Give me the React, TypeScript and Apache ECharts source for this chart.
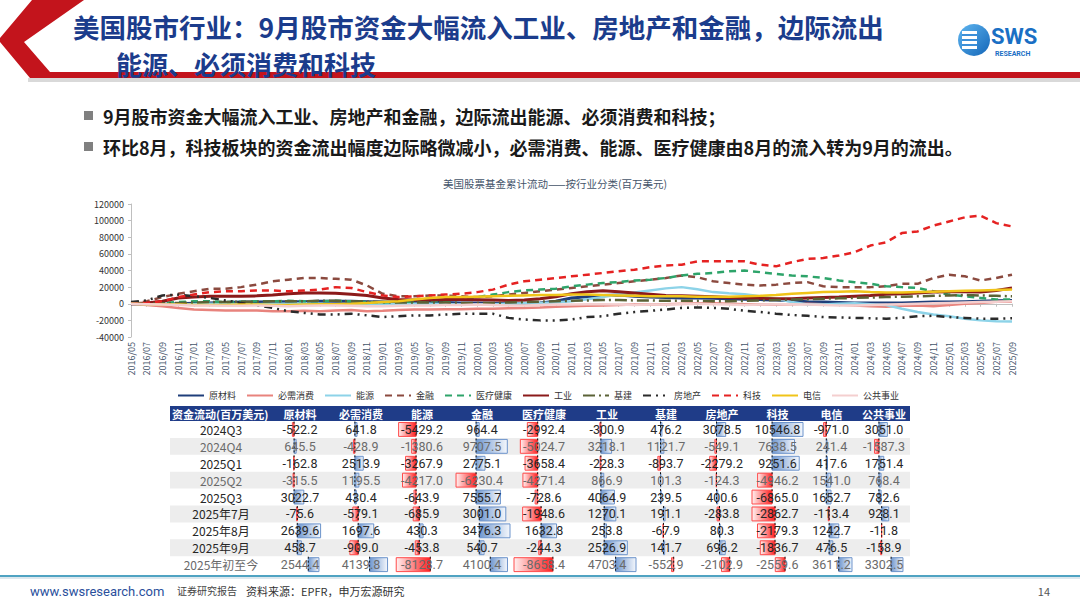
import React, { useEffect, useRef } from 'react';
import * as echarts from 'echarts';

// ---- cumulative fund flows, bi-monthly (百万美元) ----
const months = [
  '2016/05', '2016/07', '2016/09', '2016/11',
  '2017/01', '2017/03', '2017/05', '2017/07', '2017/09', '2017/11',
  '2018/01', '2018/03', '2018/05', '2018/07', '2018/09', '2018/11',
  '2019/01', '2019/03', '2019/05', '2019/07', '2019/09', '2019/11',
  '2020/01', '2020/03', '2020/05', '2020/07', '2020/09', '2020/11',
  '2021/01', '2021/03', '2021/05', '2021/07', '2021/09', '2021/11',
  '2022/01', '2022/03', '2022/05', '2022/07', '2022/09', '2022/11',
  '2023/01', '2023/03', '2023/05', '2023/07', '2023/09', '2023/11',
  '2024/01', '2024/03', '2024/05', '2024/07', '2024/09', '2024/11',
  '2025/01', '2025/03', '2025/05', '2025/07', '2025/09',
];

const sectors = ['原材料', '必需消费', '能源', '金融', '医疗健康', '工业', '基建', '房地产', '科技', '电信', '公共事业'];

const materials = [0, -500, -500, 0, 500, 1000, 1500, 2000, 2000, 2500,
  2500, 2500, 3000, 3000, 3000, 2500, 2000, 2000, 2000, 2000,
  1500, 1000, 1000, 500, 0, 500, 1000, 3000, 7000, 8500,
  10000, 10500, 9000, 8000, 7500, 7000, 7000, 6500, 6000, 5500,
  5000, 4500, 3500, 2500, 2000, 1500, 1000, 800, 800, 1000,
  1500, 2000, 2000, 2500, 3000, 3500, 4000];

const staples = [0, -1500, -3000, -5000, -7000, -7500, -8000, -8000, -8000, -9000,
  -9000, -8500, -9000, -8000, -7500, -9000, -8500, -7500, -7000, -7000,
  -6500, -6500, -6000, -6000, -5500, -5000, -4500, -3500, -3000, -2500,
  -2000, -1500, -1000, -1000, -500, 0, 500, 500, 0, -500,
  -1000, -1000, -500, 0, -500, -1000, -2000, -3000, -3500, -2500,
  -2000, -3000, -1500, 0, 1000, 2500, 2500];

const energy = [0, -500, -1000, -1000, -500, 0, 0, -500, -500, 0,
  0, 500, 0, -500, -1000, -1000, -500, -500, 0, 0,
  -500, -1000, -1000, -500, 0, 500, 1000, 1500, 3000, 5500,
  8000, 11000, 13500, 16000, 18500, 20000, 17500, 14000, 12500, 11500,
  9000, 6000, 2000, -1000, -1000, 0, 500, -500, -1500, -6000,
  -10000, -13000, -15000, -18000, -20000, -21000, -21500];

const financials = [0, 3000, 8000, 12000, 15000, 18000, 18000, 20000, 23000, 27000,
  29000, 31000, 31000, 30000, 29000, 22000, 12000, 9000, 9000, 10000,
  10000, 9000, 8000, 9000, 11000, 13000, 15000, 17000, 19000, 21000,
  23000, 25000, 27000, 29000, 31000, 34000, 32000, 27000, 25000, 23000,
  22000, 23000, 25000, 26000, 21000, 20000, 20000, 20000, 21000, 24000,
  24000, 31000, 35000, 33000, 28000, 31000, 35000];

const healthcare = [0, 500, 1000, 2000, 3000, 3000, 2000, 2500, 3000, 3000,
  3500, 3000, 3000, 3500, 3000, 2000, 1500, 2000, 2500, 3000,
  3500, 5000, 8000, 11000, 14000, 16000, 17000, 18000, 21000, 23000,
  25000, 26000, 28000, 29000, 31000, 34000, 36000, 37000, 39000, 40000,
  38000, 36000, 34000, 33000, 31000, 28000, 26000, 24000, 21000, 20000,
  19000, 15000, 11000, 9000, 7000, 5000, 5000];

const industrials = [0, 1000, 3000, 7000, 8000, 9000, 9000, 9000, 9500, 10500,
  12000, 13000, 13000, 12500, 11500, 10000, 7000, 5000, 4500, 4500,
  5000, 5000, 4800, 4500, 4000, 4500, 6000, 8500, 12000, 14500,
  15500, 14500, 13000, 11500, 10000, 9500, 9000, 8500, 7500, 7000,
  6500, 6000, 6000, 7000, 7500, 8000, 9000, 10000, 11500, 12000,
  13000, 14000, 14500, 14500, 14000, 16000, 19000];

const infrastructure = [0, 0, 500, 1000, 1500, 2000, 2000, 2500, 2500, 3000,
  3000, 3000, 3500, 3500, 3000, 2500, 2000, 1500, 1500, 1500,
  1500, 1000, 1000, 1000, 1500, 2000, 2500, 3000, 3500, 4000,
  4500, 4500, 4000, 4000, 3500, 3500, 3500, 3000, 3000, 3500,
  4000, 4500, 5000, 5500, 6000, 6500, 7000, 7500, 8000, 8500,
  9000, 9500, 10000, 10500, 10000, 9500, 9000];

const realEstate = [2000, 4000, 10000, 11000, 9000, 7000, 4000, 1000, -2000, -5000,
  -9000, -11000, -13000, -13000, -12000, -14000, -16000, -15000, -14000, -14000,
  -13000, -12000, -12000, -12000, -17000, -19000, -20000, -20000, -19000, -16000,
  -15000, -12000, -10000, -8500, -7000, -5000, -4500, -5000, -6000, -8500,
  -10000, -12000, -13500, -14500, -16000, -16500, -17000, -17500, -18000, -17000,
  -15000, -14500, -16000, -17000, -18000, -18000, -17500];

const technology = [0, 1000, 3000, 8000, 11000, 14000, 15000, 15000, 16000, 16000,
  15000, 16000, 17000, 20000, 19000, 14000, 10000, 8000, 9000, 10000,
  11000, 12000, 14000, 17000, 23000, 27000, 29000, 31000, 33000, 35000,
  37000, 39000, 41000, 44000, 46000, 47000, 51000, 51000, 51000, 51000,
  47000, 45000, 50000, 54000, 55000, 58000, 62000, 70000, 74000, 85000,
  87000, 94000, 99000, 104000, 106000, 97000, 93000];

const telecom = [0, -500, -1000, -1000, -1500, -1500, -1500, -1000, -1000, -1500,
  -1500, -1000, -500, -500, 0, 1000, 2000, 3000, 5000, 7000,
  8000, 8000, 8500, 9000, 9500, 10000, 10500, 10500, 11000, 11000,
  10500, 10000, 9500, 9000, 9000, 9000, 8500, 8500, 8500, 9000,
  9500, 10500, 12000, 13000, 14000, 14500, 15000, 14000, 13500, 13500,
  14000, 14500, 15000, 15500, 16000, 16500, 17000];

const utilities = [0, -500, -1000, -1500, -2000, -2000, -2500, -2500, -2000, -2500,
  -3000, -2500, -2000, -2000, -2500, -3000, -3000, -2500, -2000, -2000,
  -1500, -1500, -1000, -1500, -2000, -2000, -1500, -1000, -1000, -500,
  -500, -1000, -1500, -1000, -1000, -500, 0, -500, -1000, -1500,
  -1000, -500, -500, -1000, -1500, -2000, -2000, -1500, -1000, -500,
  0, 500, 1000, 1500, 2000, 2500, 3000];

const cumulativeFlows = [materials, staples, energy, financials, healthcare, industrials,
  infrastructure, realEstate, technology, telecom, utilities];

// ---- periodic flows table (百万美元) ----
const flowPeriods = ['2024Q3', '2024Q4', '2025Q1', '2025Q2', '2025Q3', '2025年7月', '2025年8月', '2025年9月', '2025年初至今'];
const flow2024Q3 = [-522.2, 641.8, -5429.2, 964.4, -2992.4, -300.9, 476.2, 3078.5, 10546.8, -971.0, 3051.0];
const flow2024Q4 = [645.5, -428.9, -1380.6, 9707.5, -5024.7, 3218.1, 1121.7, -549.1, 7638.5, 241.4, -1587.3];
const flow2025Q1 = [-162.8, 2513.9, -3267.9, 2775.1, -3658.4, -228.3, -893.7, -2279.2, 9251.6, 417.6, 1751.4];
const flow2025Q2 = [-315.5, 1195.5, -4217.0, -6230.4, -4271.4, 866.9, 101.3, -124.3, -4946.2, 1541.0, 768.4];
const flow2025Q3 = [3022.7, 430.4, -643.9, 7555.7, -728.6, 4064.9, 239.5, 400.6, -6865.0, 1652.7, 782.6];
const flowJul = [-75.6, -579.1, -685.9, 3001.0, -1948.6, 1270.1, 191.1, -283.8, -2862.7, -113.4, 928.1];
const flowAug = [2639.6, 1697.6, 430.3, 3476.3, 1632.8, 253.8, -67.9, 80.3, -2179.3, 1242.7, -11.8];
const flowSep = [458.7, -909.0, -453.8, 540.7, -244.3, 2526.9, 141.7, 696.2, -1836.7, 476.5, -158.9];
const flowYtd = [2544.4, 4139.8, -8128.7, 4100.4, -8658.4, 4703.4, -552.9, -2102.9, -2559.6, 3611.2, 3302.5];
const flowRows = [flow2024Q3, flow2024Q4, flow2025Q1, flow2025Q2, flow2025Q3, flowJul, flowAug, flowSep, flowYtd];
// rows that share one data-bar scale: quarters, months, year to date
const barBlocks = [[0, 1, 2, 3, 4], [5, 6, 7], [8]];

// ---- styles ----
const seriesColors = ['#1F3E7A', '#E8837D', '#8DD3E8', '#8B4A3F', '#2EA46A', '#8B1A1A',
  '#5B6236', '#2B2B2B', '#E52222', '#F0C419', '#F4CFCF'];
const seriesDash: any[] = ['solid', 'solid', 'solid', [7, 5], [7, 5], 'solid',
  [12, 4, 2, 4], [8, 5, 2, 5, 2, 5], [7, 5], 'solid', 'solid'];
const seriesWidth = [3, 2.5, 2.5, 2.5, 2.5, 3, 2.5, 2.5, 2.5, 2.5, 2.5];

const CJK = '"Noto Sans CJK SC", "Noto Sans", sans-serif';
const NUM = 'Roboto, "Noto Sans CJK SC", sans-serif';

const colEdges = [270, 330, 392, 452, 512, 576, 638, 694, 750, 805, 858, 910];
const TABLE_LEFT = 170;
const HEADER_TOP = 406;
const HEADER_H = 15;
const ROW_H = 16.9;

function txt(text: string, x: number, y: number, o: any = {}) {
  const align = o.align || 'left';
  return {
    type: 'text',
    x,
    y,
    silent: true,
    z: o.z ?? 10,
    style: {
      text,
      fill: o.fill || '#222',
      fontSize: o.fontSize || 12,
      fontWeight: o.fontWeight || 'normal',
      fontFamily: o.fontFamily || CJK,
      align,
      textAlign: align,
      verticalAlign: 'middle',
      textVerticalAlign: 'middle',
    },
  };
}

function buildTable(): any[] {
  const els: any[] = [];
  const right = colEdges[colEdges.length - 1];
  els.push({
    type: 'rect', silent: true, z: 1,
    shape: { x: TABLE_LEFT, y: HEADER_TOP, width: right - TABLE_LEFT, height: HEADER_H },
    style: { fill: '#1F3C88' },
  });
  els.push(txt('资金流动(百万美元)', TABLE_LEFT + 2, HEADER_TOP + HEADER_H / 2, { fill: '#fff', fontSize: 11, fontWeight: 'bold' }));
  sectors.forEach((s, c) => {
    const cx = (colEdges[c] + colEdges[c + 1]) / 2;
    els.push(txt(s, cx, HEADER_TOP + HEADER_H / 2, { fill: '#fff', fontSize: 11, fontWeight: 'bold', align: 'center' }));
  });

  flowRows.forEach((vals, r) => {
    const top = HEADER_TOP + HEADER_H + r * ROW_H;
    const mid = top + ROW_H / 2;
    if (r % 2 === 1) {
      els.push({
        type: 'rect', silent: true, z: 1,
        shape: { x: TABLE_LEFT, y: top, width: right - TABLE_LEFT, height: ROW_H },
        style: { fill: '#EDEDED' },
      });
    }
    const muted = r === 1 || r === 3 || r === 8;
    const color = muted ? '#6A6A6A' : '#262626';
    els.push(txt(flowPeriods[r], 221, mid, { fill: color, fontSize: 12, align: 'center' }));

    const block = barBlocks.find((b) => b.includes(r)) as number[];
    const all = block.flatMap((i) => flowRows[i]);
    const lo = Math.min(0, ...all);
    const hi = Math.max(0, ...all);
    const frac = -lo / (hi - lo);

    vals.forEach((v, c) => {
      const l = colEdges[c] + 2;
      const rr = colEdges[c + 1] - 2;
      const ax = l + frac * (rr - l);
      const by = top + 1.5;
      const bh = ROW_H - 3;
      if (v >= 0 && hi > 0) {
        const w = (v / hi) * (rr - ax);
        els.push({
          type: 'rect', silent: true, z: 3,
          shape: { x: ax, y: by, width: w, height: bh },
          style: {
            fill: new echarts.graphic.LinearGradient(0, 0, 1, 0, [
              { offset: 0, color: '#6F97CF' },
              { offset: 1, color: '#F4F7FC' },
            ]),
            stroke: '#6C93CB',
            lineWidth: 1,
          },
        });
      } else if (v < 0 && lo < 0) {
        const w = (v / lo) * (ax - l);
        els.push({
          type: 'rect', silent: true, z: 3,
          shape: { x: ax - w, y: by, width: w, height: bh },
          style: {
            fill: new echarts.graphic.LinearGradient(0, 0, 1, 0, [
              { offset: 0, color: '#FFF1F1' },
              { offset: 1, color: '#FF1E1E' },
            ]),
            stroke: '#FF4A4A',
            lineWidth: 1,
          },
        });
      }
      els.push({
        type: 'line', silent: true, z: 4,
        shape: { x1: ax, y1: top + 0.5, x2: ax, y2: top + ROW_H - 0.5 },
        style: { stroke: '#111', lineWidth: 1, lineDash: [2, 2] },
      });
      els.push(txt(v.toFixed(1), (colEdges[c] + colEdges[c + 1]) / 2, mid, {
        fill: color, fontSize: 12.5, fontFamily: NUM, align: 'center', z: 5,
      }));
    });
  });
  return els;
}

function buildFrame(): any[] {
  const els: any[] = [];
  // red chevron and header rule
  els.push({
    type: 'rect', silent: true, z: 0,
    shape: { x: 28, y: 78, width: 1052, height: 4 },
    style: { fill: '#D9D9D9' },
  });
  els.push({
    type: 'polygon', silent: true, z: 1,
    shape: { points: [[32, 0], [84, 0], [24, 42], [50, 72], [1080, 72], [1080, 78], [30, 78], [0, 42], [0, 38]] },
    style: { fill: '#C3141C' },
  });
  els.push(txt('美国股市行业：9月股市资金大幅流入工业、房地产和金融，边际流出', 73, 26, { fill: '#1B3C8C', fontSize: 26.5, fontWeight: 'bold' }));
  els.push(txt('能源、必须消费和科技', 116, 63, { fill: '#1B3C8C', fontSize: 26, fontWeight: 'bold' }));

  // SWS logo
  els.push({
    type: 'circle', silent: true, z: 2,
    shape: { cx: 974, cy: 40, r: 16 },
    style: {
      fill: new echarts.graphic.LinearGradient(0, 0, 1, 1, [
        { offset: 0, color: '#5FB6F0' },
        { offset: 1, color: '#1466B8' },
      ]),
    },
  });
  els.push({
    type: 'rect', silent: true, z: 3,
    shape: { x: 962, y: 31, width: 15, height: 18 },
    style: { fill: '#FFFFFF' },
  });
  [34, 39, 44].forEach((yy) => {
    els.push({
      type: 'rect', silent: true, z: 4,
      shape: { x: 962, y: yy, width: 15, height: 2 },
      style: { fill: '#3C8FD8' },
    });
  });
  els.push(txt('SWS', 991, 36, { fill: '#1A6FC4', fontSize: 22, fontWeight: 'bold', fontFamily: 'Roboto, "Liberation Sans", sans-serif' }));
  els.push(txt('RESEARCH', 995, 54, { fill: '#1A6FC4', fontSize: 7, fontWeight: 'bold', fontFamily: 'Roboto, "Liberation Sans", sans-serif' }));

  // bullets
  [116, 147].forEach((yy) => {
    els.push({
      type: 'rect', silent: true, z: 2,
      shape: { x: 84, y: yy - 5, width: 9, height: 9 },
      style: { fill: '#808080' },
    });
  });
  els.push(txt('9月股市资金大幅流入工业、房地产和金融，边际流出能源、必须消费和科技；', 103, 116, { fill: '#1A1A1A', fontSize: 18, fontWeight: 'bold' }));
  els.push(txt('环比8月，科技板块的资金流出幅度边际略微减小，必需消费、能源、医疗健康由8月的流入转为9月的流出。', 103, 147, { fill: '#1A1A1A', fontSize: 18, fontWeight: 'bold' }));

  // chart title
  els.push(txt('美国股票基金累计流动——按行业分类(百万美元)', 555, 183, { fill: '#44546A', fontSize: 10.5, align: 'center' }));

  // footer
  els.push({
    type: 'rect', silent: true, z: 1,
    shape: { x: 0, y: 575, width: 1080, height: 2 },
    style: { fill: '#4FA3C2' },
  });
  els.push({
    type: 'rect', silent: true, z: 1,
    shape: { x: 0, y: 577, width: 1080, height: 2 },
    style: { fill: '#DDE8EE' },
  });
  els.push(txt('www.swsresearch.com', 30, 591, { fill: '#2A4F9C', fontSize: 13, fontFamily: '"Liberation Sans Narrow", Roboto, sans-serif' }));
  els.push(txt('证券研究报告', 177, 590, { fill: '#444', fontSize: 10 }));
  els.push(txt('资料来源：EPFR，申万宏源研究', 246, 591, { fill: '#333', fontSize: 11 }));
  els.push(txt('14', 1050, 591, { fill: '#555', fontSize: 11, align: 'right' }));
  return els;
}

export default function App() {
  const ref = useRef<HTMLDivElement>(null);

  useEffect(() => {
    if (!ref.current) return;
    const chart = echarts.init(ref.current, undefined, { renderer: 'svg' });

    const series = sectors.map((name, i) => ({
      name,
      type: 'line',
      data: cumulativeFlows[i],
      symbol: 'none',
      smooth: false,
      xAxisIndex: 0,
      yAxisIndex: 0,
      z: 2 + i,
      lineStyle: { color: seriesColors[i], width: seriesWidth[i], type: seriesDash[i], cap: 'butt' },
      itemStyle: { color: seriesColors[i] },
    }));

    chart.setOption({
      animation: false,
      backgroundColor: '#FFFFFF',
      textStyle: { fontFamily: CJK },
      grid: { left: 131, top: 204, width: 881, height: 133, containLabel: false },
      legend: {
        data: sectors,
        left: 172,
        top: 386,
        itemWidth: 26,
        itemHeight: 8,
        itemGap: 10,
        itemStyle: { opacity: 0 },
        textStyle: { fontSize: 9, color: '#333' },
      },
      xAxis: [
        {
          type: 'category',
          data: months,
          boundaryGap: false,
          axisLine: { onZero: true, lineStyle: { color: '#BFBFBF', width: 1 } },
          axisTick: { show: true, length: 3, interval: 0, lineStyle: { color: '#BFBFBF' } },
          axisLabel: { show: false },
          splitLine: { show: false },
        },
        {
          type: 'category',
          data: months,
          boundaryGap: false,
          position: 'bottom',
          axisLine: { show: false, onZero: false },
          axisTick: { show: false },
          axisLabel: { rotate: 90, interval: 0, fontSize: 9, color: '#44546A', margin: 5 },
          splitLine: { show: false },
        },
      ],
      yAxis: {
        type: 'value',
        min: -40000,
        max: 120000,
        interval: 20000,
        axisLine: { show: true, lineStyle: { color: '#BFBFBF' } },
        axisTick: { show: true, length: 3, lineStyle: { color: '#BFBFBF' } },
        axisLabel: { fontSize: 9, color: '#333', margin: 7, formatter: (v: number) => String(v) },
        splitLine: { show: false },
      },
      series,
      graphic: { elements: [...buildFrame(), ...buildTable()] },
    });

    return () => chart.dispose();
  }, []);

  return (
    <div
      ref={ref}
      style={{ position: 'absolute', left: 0, top: 0, width: 1080, height: 608, background: '#fff' }}
    />
  );
}
